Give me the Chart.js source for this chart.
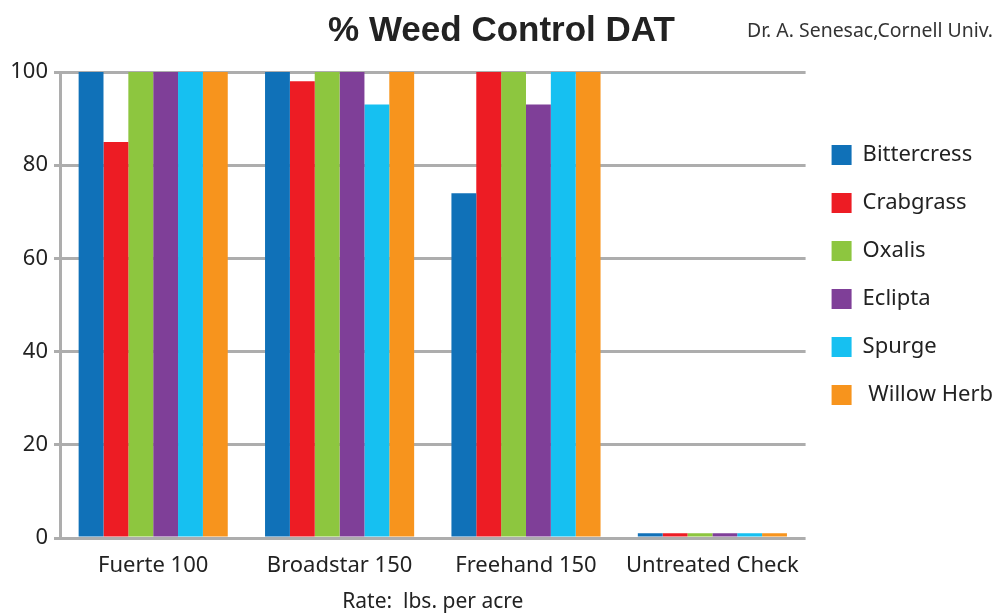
<!DOCTYPE html>
<html lang="en">
  <head>
    <meta charset="UTF-8">
    <title>% Weed Control DAT</title>
    <script src="https://cdn.jsdelivr.net/npm/chart.js@4.4.1/dist/chart.umd.min.js"></script>
    <style>
      body { margin: 0; background: #fff; }
    </style>
  </head>
  <body>
    <canvas id="chart" width="997" height="615"></canvas>
    <script>
    // values
    const treatments = ['Fuerte 100', 'Broadstar 150', 'Freehand 150', 'Untreated Check'];
    const weeds = ['Bittercress', 'Crabgrass', 'Oxalis', 'Eclipta', 'Spurge', ' Willow Herb'];
    const bittercress = [100, 100, 74, 1];
    const crabgrass = [85, 98, 100, 1];
    const oxalis = [100, 100, 100, 1];
    const eclipta = [100, 100, 93, 1];
    const spurge = [100, 93, 100, 1];
    const willowHerb = [100, 100, 100, 1];
    const yTicks = [0, 20, 40, 60, 80, 100];

    const colors = ['#1071b8', '#ed1c24', '#8dc63f', '#7f3f98', '#16c0f1', '#f7941d'];
    const series = [bittercress, crabgrass, oxalis, eclipta, spurge, willowHerb];

    const font = '"Noto Sans", sans-serif';

    // author note in the top right corner
    const creditPlugin = {
      id: 'credit',
      afterDraw(chart) {
        const ctx = chart.ctx;
        const text = 'Dr. A. Senesac,Cornell Univ.';
        ctx.save();
        ctx.font = '19px ' + font;
        ctx.fillStyle = '#333';
        ctx.textBaseline = 'middle';
        const w = ctx.measureText(text).width;
        ctx.translate(747, 32);
        ctx.scale(246 / w, 1);
        ctx.fillText(text, 0, 0);
        ctx.restore();
      }
    };

    new Chart(document.getElementById('chart'), {
      type: 'bar',
      data: {
        labels: treatments,
        datasets: weeds.map((w, i) => ({
          label: w,
          data: series[i],
          backgroundColor: colors[i],
          borderWidth: 0,
          categoryPercentage: 0.8,
          barPercentage: 1
        }))
      },
      plugins: [creditPlugin],
      options: {
        responsive: false,
        animation: false,
        layout: { padding: { top: 6, right: -6, left: 0, bottom: 0 } },
        plugins: {
          title: {
            display: true,
            text: '% Weed Control DAT',
            color: '#222',
            font: { family: '"Liberation Sans", Arial, sans-serif', size: 35, weight: 'bold' },
            padding: { top: 4, bottom: 20 }
          },
          legend: {
            position: 'right',
            align: 'start',
            // empty title only pushes the legend items down
            title: {
              display: true,
              text: ' ',
              font: { size: 10 },
              padding: { top: 100, bottom: 0 }
            },
            labels: {
              color: '#222',
              font: { family: font, size: 22 },
              boxWidth: 20,
              boxHeight: 20,
              padding: 26
            }
          },
          tooltip: { enabled: false }
        },
        scales: {
          x: {
            afterFit(scale) { scale.height = 77; },
            grid: { display: false },
            border: { display: false },
            ticks: { color: '#222', font: { family: font, size: 22 }, padding: 7 },
            title: {
              display: true,
              text: 'Rate:  lbs. per acre',
              color: '#222',
              font: { family: font, size: 21 },
              padding: { top: 0, bottom: 0 }
            }
          },
          y: {
            min: 0,
            max: 100,
            afterBuildTicks(scale) {
              scale.ticks = yTicks.map(v => ({ value: v }));
            },
            afterFit(scale) { scale.width = 60; },
            grid: { color: '#adadad', lineWidth: 3, tickLength: 6 },
            border: { color: '#adadad', width: 3 },
            ticks: { color: '#222', font: { family: font, size: 22 }, padding: 6 }
          }
        }
      }
    });
    </script>
  </body>
</html>
